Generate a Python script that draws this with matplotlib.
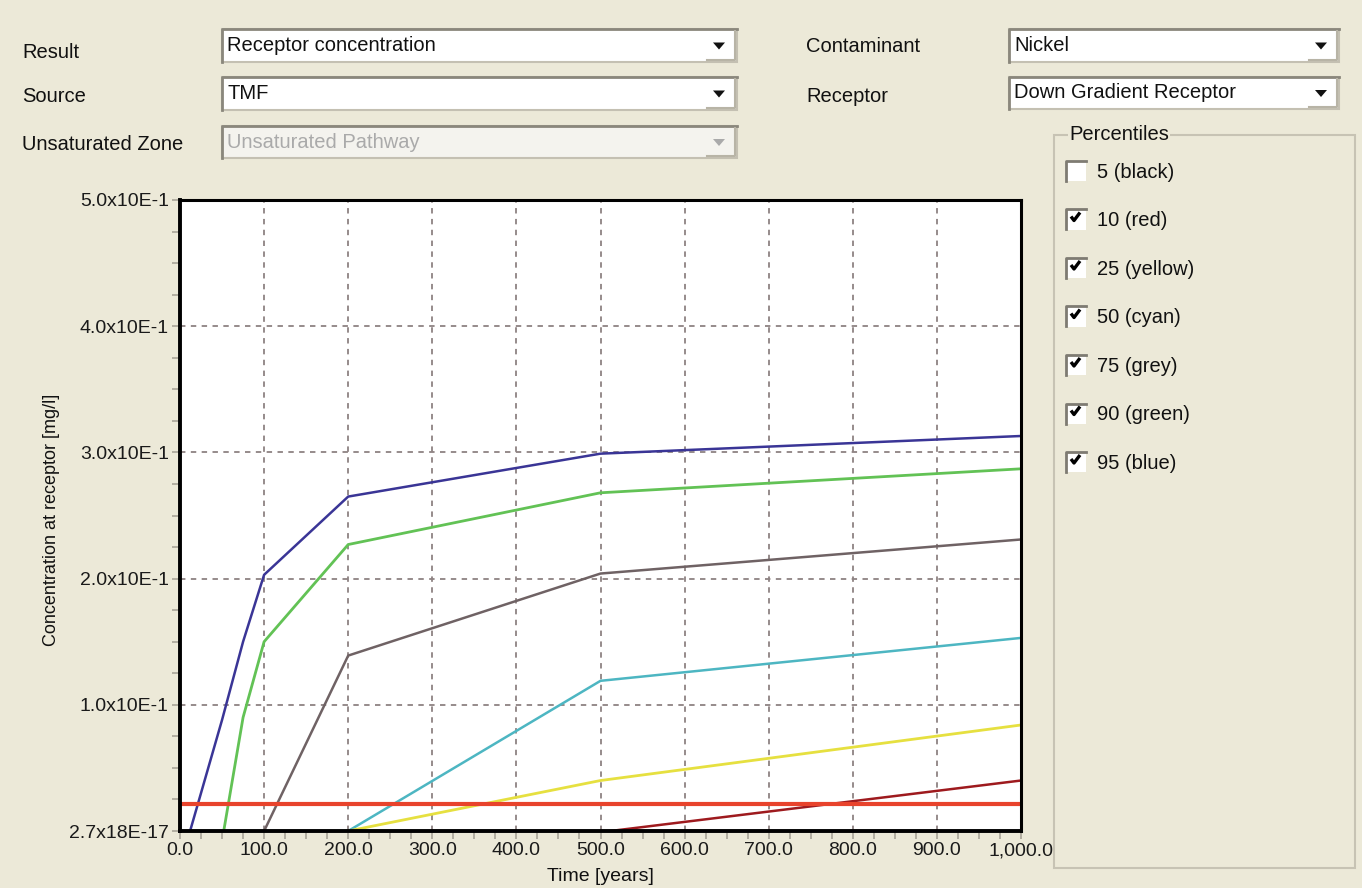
import matplotlib
matplotlib.use("Agg")
import matplotlib.pyplot as plt
from matplotlib.patches import Rectangle, Polygon
from matplotlib.ticker import FixedLocator, FixedFormatter, MultipleLocator

plt.rcParams['font.family'] = ['Liberation Sans', 'DejaVu Sans']

# ---- data ----
t_95 = [12, 50, 75, 100, 200, 500, 1000]
c_95 = [0.0, 0.088, 0.150, 0.203, 0.265, 0.299, 0.313]
t_90 = [52, 75, 100, 200, 500, 1000]
c_90 = [0.0, 0.090, 0.150, 0.227, 0.268, 0.287]
t_75 = [100, 200, 500, 1000]
c_75 = [0.0, 0.139, 0.204, 0.231]
t_50 = [200, 500, 1000]
c_50 = [0.0, 0.119, 0.153]
t_25 = [200, 500, 1000]
c_25 = [0.0, 0.040, 0.084]
t_10 = [512, 1000]
c_10 = [0.0, 0.040]
limit = 0.021

x_ticks = [0, 100, 200, 300, 400, 500, 600, 700, 800, 900, 1000]
x_labels = ["0.0", "100.0", "200.0", "300.0", "400.0", "500.0",
            "600.0", "700.0", "800.0", "900.0", "1,000.0"]
y_ticks = [0.0, 0.1, 0.2, 0.3, 0.4, 0.5]
y_labels = ["2.7x18E-17", "1.0x10E-1", "2.0x10E-1", "3.0x10E-1",
            "4.0x10E-1", "5.0x10E-1"]

percentiles = ["5 (black)", "10 (red)", "25 (yellow)", "50 (cyan)",
               "75 (grey)", "90 (green)", "95 (blue)"]
checked = [False, True, True, True, True, True, True]

BG = '#ECE9D8'
W, H = 1362, 888

fig = plt.figure(figsize=(W / 100, H / 100), dpi=100, facecolor=BG)

# overlay in pixel coords for the form widgets
ui = fig.add_axes([0, 0, 1, 1], zorder=0)
ui.set_xlim(0, W)
ui.set_ylim(H, 0)
ui.axis('off')


def label(x, y, s, **kw):
    ui.text(x, y, s, fontsize=14.5, va='center', ha='left', color='#111111', **kw)


def dropdown(x0, y0, x1, y1, s, enabled=True):
    fill = 'white' if enabled else '#F4F3EE'
    fg = '#111111' if enabled else '#AAAAAA'
    ui.add_patch(Rectangle((x0, y0), x1 - x0, y1 - y0, facecolor=fill,
                           edgecolor='#C4C0B2', lw=1.5))
    ui.plot([x0, x0, x1], [y1, y0, y0], color='#8A877C', lw=2)
    # arrow button
    bx = x1 - 32
    ui.plot([bx + 2, x1 - 2, x1 - 2], [y1 - 2, y1 - 2, y0 + 2], color='#B8B4A6', lw=1.5)
    cx, cy = x1 - 18, (y0 + y1) / 2
    ui.add_patch(Polygon([[cx - 6, cy - 3], [cx + 6, cy - 3], [cx, cy + 4]],
                         closed=True, facecolor=fg, edgecolor='none'))
    ui.text(x0 + 5, cy, s, fontsize=14.5, va='center', ha='left', color=fg)


label(22, 53, "Result")
label(22, 97, "Source")
label(22, 144, "Unsaturated Zone")
label(806, 47, "Contaminant")
label(806, 97, "Receptor")

dropdown(222, 29, 737, 62, "Receptor concentration")
dropdown(222, 77, 737, 110, "TMF")
dropdown(222, 126, 737, 158, "Unsaturated Pathway", enabled=False)
dropdown(1009, 29, 1339, 62, "Nickel")
dropdown(1009, 77, 1339, 109, "Down Gradient Receptor")

# Percentiles group box
ui.add_patch(Rectangle((1054, 135), 301, 733, facecolor='none',
                       edgecolor='#C7C3B4', lw=1.5))
ui.text(1069, 135, "Percentiles", fontsize=14.5, va='center', ha='left',
        color='#111111', bbox=dict(facecolor=BG, edgecolor='none', pad=1))

for i, (name, on) in enumerate(zip(percentiles, checked)):
    cy = 172 + i * 48.5
    bx, by = 1066, cy - 11
    ui.add_patch(Rectangle((bx, by), 20, 20, facecolor='white', edgecolor='none'))
    ui.plot([bx, bx, bx + 20], [by + 20, by, by], color='#7E7B72', lw=2)
    if on:
        ui.plot([bx + 5, bx + 8, bx + 14], [by + 7, by + 11, by + 3],
                color='black', lw=2.4, solid_capstyle='butt')
    ui.text(1097, cy, name, fontsize=14.5, va='center', ha='left', color='#111111')

# ---- the chart ----
ax = fig.add_axes([180 / W, 1 - 831 / H, 841 / W, 631 / H], zorder=1)
ax.set_facecolor('white')

ax.plot(t_95, c_95, color='#3A3596', lw=1.8)
ax.plot(t_90, c_90, color='#62C255', lw=2)
ax.plot(t_75, c_75, color='#6F6264', lw=1.8)
ax.plot(t_50, c_50, color='#4DB6C2', lw=1.8)
ax.plot(t_25, c_25, color='#E6E040', lw=2)
ax.plot(t_10, c_10, color='#9E1A1E', lw=1.8)
ax.axhline(limit, color='#E8432C', lw=3)

ax.set_xlim(0, 1000)
ax.set_ylim(0, 0.5)
ax.xaxis.set_major_locator(FixedLocator(x_ticks))
ax.xaxis.set_major_formatter(FixedFormatter(x_labels))
ax.yaxis.set_major_locator(FixedLocator(y_ticks))
ax.yaxis.set_major_formatter(FixedFormatter(y_labels))
ax.xaxis.set_minor_locator(MultipleLocator(25))
ax.yaxis.set_minor_locator(MultipleLocator(0.025))

ax.grid(True, which='major', color='#8E8282', lw=1.3, linestyle=(0, (3, 3)))
ax.tick_params(which='both', direction='out', length=6, width=1.2,
               color='#A8A498', labelsize=14, labelcolor='#1A1A1A', pad=2)
for sp in ax.spines.values():
    sp.set_linewidth(2.2)
    sp.set_color('black')
ax.spines['left'].set_linewidth(2.8)
ax.spines['bottom'].set_linewidth(2.8)

fig.text(600 / W, 1 - 876 / H, "Time [years]", fontsize=14,
         ha='center', va='center', color='#111111')
fig.text(52 / W, 1 - 520 / H, "Concentration at receptor [mg/l]", fontsize=13,
         ha='center', va='center', rotation=90, color='#111111')

fig.savefig("out.png", dpi=100, facecolor=BG)
